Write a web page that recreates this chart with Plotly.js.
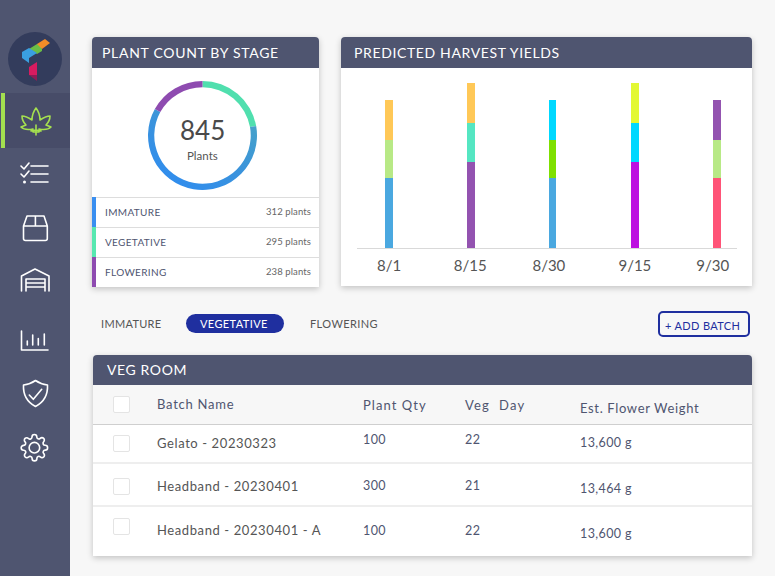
<!DOCTYPE html>
<html><head><meta charset="utf-8">
<script src="https://cdn.plot.ly/plotly-3.0.1.min.js"></script>
<style>
html,body{margin:0;padding:0;width:775px;height:576px;overflow:hidden;background:#f7f7f7;font-family:Lato,sans-serif}
.a{position:absolute}
.t{position:absolute;white-space:pre;line-height:1;transform:translateY(-50%)}
.card{position:absolute;background:#fff;box-shadow:0 2px 6px rgba(0,0,0,.22);border-radius:4px 4px 0 0}
.hd{position:absolute;background:#4f5570;border-radius:4px 4px 0 0}
</style></head><body>
<svg class="a" style="left:0;top:0" width="70" height="576" fill="none" stroke="#fff" stroke-width="1.6" stroke-linecap="round" stroke-linejoin="round">
<rect x="0" y="0" width="70" height="576" fill="#4f5570" stroke="none"/>
<rect x="1" y="93" width="69" height="55" fill="#474c68" stroke="none"/>
<rect x="1" y="93" width="4" height="55" fill="#a3e04f" stroke="none"/>
<circle cx="35" cy="59" r="27" fill="#333c5c" stroke="none"/>
<g stroke="none">
<polygon points="37,44 45,39 50,43 42,49 37,47" fill="#f28c28"/>
<polygon points="29,49 37,44 42,49 42,51 37,54 33,51" fill="#6bbd45"/>
<polygon points="22,52 29,48 37,53 29,58 29,63 22,58" fill="#3a9fe0"/>
<polygon points="37,62 29,67 29,75 37,75" fill="#d81b60"/>
<polygon points="29,75 37,75 37,81" fill="#8e1c55"/>
</g>
<path stroke="#a5e04f" d="M36 108C33 112 32 116 32 120C29 118 25 116 22 116C22 120 24 123 26 125L21 127C24 130 28 130 33 129L31 131L36 130L41 131L39 129C44 130 48 130 51 127L46 125C48 123 50 120 50 116C47 116 43 118 40 120C40 116 39 112 36 108ZM36 125V135M33 132H39"/>
<path d="M31 166H48M31 174H48M31 182H48M21 166L24 169L29 163M21 174L24 177L29 171"/>
<circle cx="24.5" cy="182" r="1.5" fill="#fff" stroke="none"/>
<path d="M27 216H44L47.3 226V238.5Q47.3 240.5 45.3 240.5H25.5Q23.5 240.5 23.5 238.5V226ZM23.5 226H47.3M35.4 216V226"/>
<path d="M21.5 291V276L35 269L49 276V291M26 291V279H45V291M26 283H45M26 287H45"/>
<path d="M21.5 331V350H48M27.3 345V341M32.7 345V335M38.3 345V338.5M44.3 345V334"/>
<path d="M35.5 380.5C39 383 43 384.5 47.5 385C48 395 44 402 35.5 406.5C27 402 23 395 23.5 385C28 384.5 32 383 35.5 380.5ZM29.3 395L33.3 399.3L41.7 389.3"/>
<g transform="translate(20,433.3) scale(1.2)" stroke-width="1.35"><circle cx="12" cy="12" r="4.4"/><path d="M19.4 15a1.65 1.65 0 0 0 .33 1.82l.06.06a2 2 0 0 1 0 2.83 2 2 0 0 1-2.83 0l-.06-.06a1.65 1.65 0 0 0-1.82-.33 1.65 1.65 0 0 0-1 1.51V21a2 2 0 0 1-2 2 2 2 0 0 1-2-2v-.09A1.65 1.65 0 0 0 9 19.4a1.65 1.65 0 0 0-1.82.33l-.06.06a2 2 0 0 1-2.83 0 2 2 0 0 1 0-2.83l.06-.06a1.65 1.65 0 0 0 .33-1.82 1.65 1.65 0 0 0-1.51-1H3a2 2 0 0 1-2-2 2 2 0 0 1 2-2h.09A1.65 1.65 0 0 0 4.6 9a1.65 1.65 0 0 0-.33-1.82l-.06-.06a2 2 0 0 1 0-2.83 2 2 0 0 1 2.83 0l.06.06a1.65 1.65 0 0 0 1.82.33H9a1.65 1.65 0 0 0 1-1.51V3a2 2 0 0 1 2-2 2 2 0 0 1 2 2v.09a1.65 1.65 0 0 0 1 1.51 1.65 1.65 0 0 0 1.82-.33l.06-.06a2 2 0 0 1 2.83 0 2 2 0 0 1 0 2.83l-.06.06a1.65 1.65 0 0 0-.33 1.82V9a1.65 1.65 0 0 0 1.51 1H21a2 2 0 0 1 2 2 2 2 0 0 1-2 2h-.09a1.65 1.65 0 0 0-1.51 1z"/></g>
</svg>

<div class="card" style="left:92px;top:37px;width:227px;height:250px"></div>
<div class="hd" style="left:92px;top:37px;width:227px;height:31px"></div>
<div class="card" style="left:341px;top:37px;width:411px;height:249px"></div>
<div class="hd" style="left:341px;top:37px;width:411px;height:31px"></div>
<div class="card" style="left:93px;top:355px;width:659px;height:201px"></div>
<div class="a" style="left:93px;top:385px;width:659px;height:39px;background:#f7f7f7;border-bottom:1px solid #cfcfcf"></div>
<div class="hd" style="left:93px;top:355px;width:659px;height:30px"></div>
<div class="a" style="left:93px;top:462px;width:659px;height:2px;background:#eeeeee"></div>
<div class="a" style="left:93px;top:505px;width:659px;height:2px;background:#eeeeee"></div>
<div class="a" style="left:186px;top:314px;width:98px;height:19px;background:#1f2f9f;border-radius:10px"></div>
<div class="a" style="left:658px;top:311px;width:88px;height:22px;border:2px solid #1f2f9f;border-radius:5px"></div>

<div id="ring" class="a" style="left:148px;top:81px;width:109px;height:109px"></div>
<div id="bars" class="a" style="left:341px;top:68px;width:411px;height:218px"></div>

<script>
// ---- ring (arc sizes as drawn, in degrees of the circle)
var ringLabels = ["Vegetative", "Immature", "Flowering"];
var ringValues = [80, 219, 61];
var ringColors = ["#50dfae", "#3a92e0", "#8e4bb0"];
var ringTotal = "845";
var ringUnit = "Plants";

// ---- stage list
var stageNames = ["IMMATURE", "VEGETATIVE", "FLOWERING"];
var stageCounts = ["312 plants", "295 plants", "238 plants"];
var stageColors = ["#3a8ff0", "#58e8b0", "#8e4bb0"];

// ---- harvest bars
var harvestDates = ["8/1", "8/15", "8/30", "9/15", "9/30"];
var yieldLower = [70, 86, 70, 86, 70];
var yieldMiddle = [38, 39, 38, 39, 38];
var yieldUpper = [40, 40, 40, 40, 40];
var lowerColors = ["#4aa8e0", "#9353b0", "#4aa8e0", "#bd10e0", "#ff5377"];
var middleColors = ["#b8e986", "#55e6c2", "#7fe000", "#00d8ff", "#b8e986"];
var upperColors = ["#ffc857", "#ffc857", "#00d8ff", "#e3f833", "#9353b0"];

// ---- table
var tableTitle = "VEG ROOM";
var batchNames = ["Gelato - 20230323", "Headband - 20230401", "Headband - 20230401 - A"];
var plantQty = ["100", "300", "100"];
var vegDay = ["22", "21", "22"];
var flowerWeight = ["13,600 g", "13,464 g", "13,600 g"];

function text(s, x, y, size, color, spacing, right) {
  var d = document.createElement("div");
  d.className = "t";
  d.textContent = s;
  d.style.top = y + "px";
  d.style.fontSize = size + "px";
  d.style.color = color;
  d.style.letterSpacing = (spacing || 0) + "px";
  if (right) d.style.right = (775 - x) + "px"; else d.style.left = x + "px";
  document.body.appendChild(d);
}
function box(x, y) {
  var d = document.createElement("div");
  d.className = "a";
  d.style.cssText = "left:" + x + "px;top:" + y + "px;width:15px;height:15px;background:#fff;border:1px solid #e4e4e4;border-radius:2px";
  document.body.appendChild(d);
}

// headers
text("PLANT COUNT BY STAGE", 102, 53, 14, "#fff", 0.7);
text("PREDICTED HARVEST YIELDS", 354, 53, 14, "#fff", 0.63);
text(tableTitle, 107, 370, 14, "#fff", 0.6);

// stage rows
var rowTops = [197, 227, 257];
stageNames.forEach(function (n, i) {
  var line = document.createElement("div");
  line.className = "a";
  line.style.cssText = "left:92px;width:227px;height:1px;background:#dddddd;top:" + rowTops[i] + "px";
  document.body.appendChild(line);
  var bar = document.createElement("div");
  bar.className = "a";
  bar.style.cssText = "left:92px;width:4px;height:30px;background:" + stageColors[i] + ";top:" + rowTops[i] + "px";
  document.body.appendChild(bar);
  text(n, 105, rowTops[i] + 14.5, 10, "#4f5570", 0.35);
  text(stageCounts[i], 311, rowTops[i] + 14.5, 9.5, "#666666", 0.1, true);
});

// tabs
text("IMMATURE", 101, 323, 11, "#555555", 0.3);
text("VEGETATIVE", 200, 323, 11, "#ffffff", 0.4);
text("FLOWERING", 310, 323, 11, "#555555", 0.4);
text("+ ADD BATCH", 665, 325, 11, "#1f2f9f", 0.35);

// table header
text("Batch Name", 157, 404, 13, "#4f5570", 0.75);
text("Plant Qty", 363, 405, 13, "#4f5570", 1.05);
text("Veg  Day", 465, 405, 13, "#4f5570", 1.2);
text("Est. Flower Weight", 580, 407.5, 13, "#4f5570", 0.65);
box(113, 396);

// table rows
var nameY = [443, 486, 530], qtyY = [440, 486, 531], dayY = [440, 486, 531], wtY = [443, 489, 534], boxY = [435, 478, 518];
batchNames.forEach(function (n, i) {
  box(113, boxY[i]);
  text(n, 157, nameY[i], 13, "#555555", 0.6);
  text(plantQty[i], 363, qtyY[i], 12.5, "#4f5570", 0.4);
  text(vegDay[i], 465, dayY[i], 12.5, "#4f5570", 0.4);
  text(flowerWeight[i], 580, wtY[i], 12.5, "#4f5570", 0.4);
});

// ring chart
Plotly.newPlot("ring", [{
  type: "pie", labels: ringLabels, values: ringValues, sort: false, direction: "clockwise", rotation: 0,
  hole: 0.885, textinfo: "none", hoverinfo: "label",
  marker: { colors: ringColors, line: { width: 0 } }
}], {
  width: 109, height: 109, margin: { l: 0, r: 0, t: 0, b: 0 }, showlegend: false,
  paper_bgcolor: "rgba(0,0,0,0)", font: { family: "Lato, sans-serif" },
  annotations: [
    { text: ringTotal, xref: "paper", yref: "paper", x: 0.5, y: 0.55, yanchor: "middle", showarrow: false, font: { size: 26, color: "#4a4a4a" } },
    { text: ringUnit, xref: "paper", yref: "paper", x: 0.5, y: 0.32, yanchor: "middle", showarrow: false, font: { size: 11.5, color: "#555555" } }
  ]
}, { displayModeBar: false, staticPlot: true }).then(function (gd) {
  var svg = gd.querySelector(".main-svg");
  var ns = "http://www.w3.org/2000/svg";
  var defs = svg.querySelector("defs") || svg.insertBefore(document.createElementNS(ns, "defs"), svg.firstChild);
  var g = document.createElementNS(ns, "linearGradient");
  g.setAttribute("id", "ringBlue");
  g.setAttribute("x1", "1"); g.setAttribute("y1", "0"); g.setAttribute("x2", "0.2"); g.setAttribute("y2", "1");
  [["0", "#49a6c4"], ["0.55", "#3a93dc"], ["1", "#2f8cf0"]].forEach(function (s) {
    var st = document.createElementNS(ns, "stop");
    st.setAttribute("offset", s[0]); st.setAttribute("stop-color", s[1]);
    g.appendChild(st);
  });
  defs.appendChild(g);
  var paths = gd.querySelectorAll(".slice path.surface");
  if (paths[1]) paths[1].style.fill = "url(#ringBlue)";
});

// harvest chart
var barPositions = harvestDates.map(function (_, i) { return i; });
var tickPositions = [0, 0.99, 1.95, 3, 3.95];
var pxPerUnit = 81.9;
var barWidths = [7.7, 8.7, 7, 8.3, 7.7].map(function (w) { return w / pxPerUnit; });
function stack(name, values, colors) {
  return { type: "bar", name: name, x: barPositions, y: values, width: barWidths, marker: { color: colors, line: { width: 0 } }, hoverinfo: "y" };
}
Plotly.newPlot("bars", [
  stack("Lower", yieldLower, lowerColors),
  stack("Middle", yieldMiddle, middleColors),
  stack("Upper", yieldUpper, upperColors)
], {
  width: 411, height: 218, barmode: "stack", showlegend: false,
  margin: { l: 16, r: 15, t: 10, b: 38 },
  paper_bgcolor: "rgba(0,0,0,0)", plot_bgcolor: "rgba(0,0,0,0)",
  font: { family: "Lato, sans-serif" },
  xaxis: {
    range: [-0.393, 4.247], tickvals: tickPositions, ticktext: harvestDates, fixedrange: true,
    showgrid: false, zeroline: false, showline: true, linecolor: "#d9d9d9", linewidth: 1,
    ticks: "outside", ticklen: 4, tickcolor: "rgba(0,0,0,0)", tickfont: { size: 15, color: "#555555" }
  },
  yaxis: { range: [0, 170], visible: false, fixedrange: true }
}, { displayModeBar: false, staticPlot: true });
</script>
</body></html>
